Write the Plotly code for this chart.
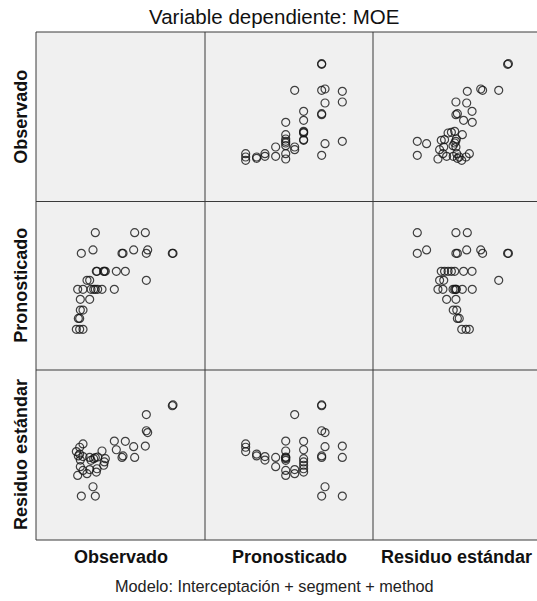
import plotly.graph_objects as go

# ---- data ----
observado = [7520, 7120, 6720, 7120, 6960, 7520, 7200, 8320, 7200,
             11280, 9800, 9280, 9000, 8800, 8480, 7520, 6880,
             15120, 8320, 8000,
             12600, 11520, 10200, 10080, 10000, 9200, 9120,
             18320, 18240, 15120, 12320, 12200, 7320,
             15280, 13600, 8720,
             15000, 13720, 9000]
pronosticado = [6150, 6150, 6150, 7030, 7030, 7700, 7700, 8560, 8560,
                9370, 9370, 9370, 9370, 9370, 9370, 9370, 9370,
                10090, 10090, 10090,
                10810, 10810, 10810, 10810, 10810, 10810, 10810,
                12260, 12260, 12260, 12260, 12260, 12260,
                12530, 12530, 12530,
                13920, 13920, 13920]
residuo = [0.55, 0.39, 0.18, 0.06, -0.03, -0.06, -0.23, -0.10, -0.55,
           0.69, 0.21, -0.08, -0.11, -0.16, -0.24, -0.73, -0.97,
           1.97, -0.69, -0.89,
           0.68, 0.27, -0.16, -0.32, -0.48, -0.65, -0.81,
           2.44, 2.40, 1.19, -0.03, -0.10, -1.97,
           1.10, 0.42, -1.52,
           0.45, -0.10, -1.97]
var_names = ["Observado", "Pronosticado", "Residuo estándar"]
title_text = "Variable dependiente: MOE"
footnote_text = "Modelo: Interceptación + segment + method"

# ---- layout geometry ----
W, H = 537, 601
col_edges = [36, 205, 373, 537]
row_edges = [32, 201.5, 370, 540]
x_ranges = [[1880, 22160], [2880, 16387], [-4.113, 3.823]]
y_ranges = [[1780, 22120], [2880, 16427], [-4.097, 4.129]]

series = [observado, pronosticado, residuo]
fig = go.Figure()

def ax(i):
    return "" if i == 0 else str(i + 1)

for r in range(3):
    for c in range(3):
        if r == c:
            continue
        fig.add_trace(go.Scatter(
            x=series[c], y=series[r], mode="markers",
            xaxis="x" + ax(c), yaxis="y" + ax(r),
            marker=dict(symbol="circle-open", size=8,
                        color="rgba(20,20,20,0.8)",
                        line=dict(width=1.2, color="rgba(20,20,20,0.8)")),
            showlegend=False, hoverinfo="skip"))

layout = dict(
    width=W, height=H, margin=dict(l=0, r=0, t=0, b=0),
    paper_bgcolor="white", plot_bgcolor="rgba(0,0,0,0)",
    showlegend=False,
)
for c in range(3):
    layout["xaxis" + ax(c)] = dict(
        domain=[col_edges[c] / W, col_edges[c + 1] / W],
        range=x_ranges[c], visible=False, fixedrange=True)
for r in range(3):
    layout["yaxis" + ax(r)] = dict(
        domain=[1 - row_edges[r + 1] / H, 1 - row_edges[r] / H],
        range=y_ranges[r], visible=False, fixedrange=True)
fig.update_layout(**layout)

def px(x):
    return x / W

def py(y):
    return 1 - y / H

shapes = [dict(type="rect", xref="paper", yref="paper",
               x0=px(col_edges[0]), x1=px(col_edges[3]),
               y0=py(row_edges[3]), y1=py(row_edges[0]),
               fillcolor="#f0f0f0", line=dict(width=0), layer="below")]
line_style = dict(color="#3a3a3a", width=1)
for xe in col_edges[:3]:
    shapes.append(dict(type="line", xref="paper", yref="paper",
                       x0=px(xe), x1=px(xe), y0=py(row_edges[3]), y1=py(row_edges[0]),
                       line=line_style))
for ye in row_edges:
    shapes.append(dict(type="line", xref="paper", yref="paper",
                       x0=px(col_edges[0]), x1=px(col_edges[3]), y0=py(ye), y1=py(ye),
                       line=line_style))
fig.update_layout(shapes=shapes)

font_main = "Liberation Sans, Arial, sans-serif"
annotations = [
    dict(text=title_text, x=px(274), y=py(17), xref="paper", yref="paper",
         showarrow=False, xanchor="center", yanchor="middle",
         font=dict(family=font_main, size=20.5, color="#111")),
    dict(text=footnote_text, x=px(274), y=py(586), xref="paper", yref="paper",
         showarrow=False, xanchor="center", yanchor="middle",
         font=dict(family=font_main, size=16.3, color="#222")),
]
for i, name in enumerate(var_names):
    cx = (col_edges[i] + (col_edges[i + 1] if i < 2 else 540)) / 2
    annotations.append(dict(text="<b>%s</b>" % name, x=px(cx), y=py(557),
                            xref="paper", yref="paper", showarrow=False,
                            xanchor="center", yanchor="middle",
                            font=dict(family=font_main, size=18, color="#111")))
    cy = (row_edges[i] + row_edges[i + 1]) / 2
    annotations.append(dict(text="<b>%s</b>" % name, x=px(21), y=py(cy),
                            xref="paper", yref="paper", showarrow=False,
                            textangle=-90, xanchor="center", yanchor="middle",
                            font=dict(family=font_main, size=18, color="#111")))
fig.update_layout(annotations=annotations)

fig.write_html("out.html", config={"displayModeBar": False},
               post_script="document.body.style.margin='0px';document.body.style.padding='0px';")
